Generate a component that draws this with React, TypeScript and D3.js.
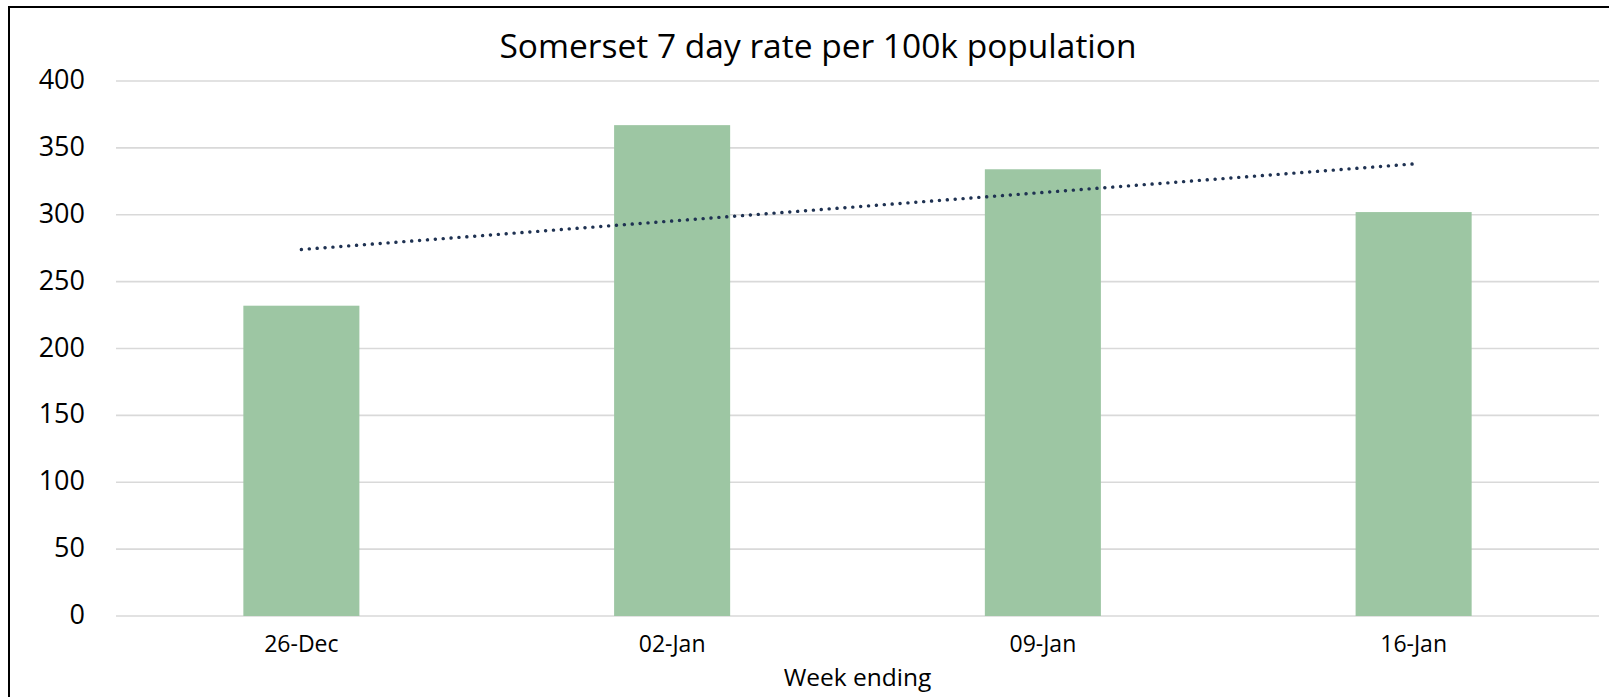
import * as d3 from 'd3';

const weeks = ['26-Dec', '02-Jan', '09-Jan', '16-Jan'];
const rates = [232, 367, 334, 302];
// linear trendline endpoints as drawn (first and last week)
const trendEnds = [274, 338];
const yTicks = [0, 50, 100, 150, 200, 250, 300, 350, 400];

const W = 1609;
const H = 697;
const FONT = '"Open Sans", "Noto Sans", sans-serif';

export default function App() {
  const left = 116;
  const right = 1599;
  const top = 81;
  const bottom = 616;

  const x = d3.scaleBand<string>()
    .domain(weeks)
    .range([left, right])
    .paddingInner(0.687)
    .paddingOuter(0.3435);

  const y = d3.scaleLinear().domain([0, 400]).range([bottom, top]);

  const center = (w: string) => (x(w) ?? 0) + x.bandwidth() / 2;

  const trend = d3.line<number>()
    .x((_, i) => center(weeks[i === 0 ? 0 : weeks.length - 1]))
    .y(d => y(d));

  return (
    <svg
      width={W}
      height={H}
      style={{ position: 'absolute', left: 0, top: 0, background: '#fff' }}
      fontFamily={FONT}
    >
      <rect x={0} y={0} width={W} height={H} fill="#fff" />
      {/* chart border, runs past the right and bottom edges */}
      <rect x={9} y={7} width={W + 20} height={H + 20} fill="none" stroke="#000" strokeWidth={2} />

      <text x={818} y={58} textAnchor="middle" fontSize={33.5} fill="#000">
        Somerset 7 day rate per 100k population
      </text>

      {yTicks.map(t => (
        <g key={t}>
          <line x1={left} x2={right} y1={y(t)} y2={y(t)} stroke="#d9d9d9" strokeWidth={1.6} />
          <text x={85} y={y(t) + 8} textAnchor="end" fontSize={27} fill="#000">{t}</text>
        </g>
      ))}

      {weeks.map((w, i) => (
        <rect
          key={w}
          x={x(w)}
          y={y(rates[i])}
          width={x.bandwidth()}
          height={y(0) - y(rates[i])}
          fill="#9dc6a3"
        />
      ))}

      <path
        d={trend(trendEnds) ?? ''}
        fill="none"
        stroke="#1f3252"
        strokeWidth={3.4}
        strokeLinecap="round"
        strokeDasharray="0.1 7.8"
      />

      {weeks.map(w => (
        <text key={w} x={center(w)} y={652} textAnchor="middle" fontSize={23} fill="#000">{w}</text>
      ))}

      <text x={(left + right) / 2} y={686} textAnchor="middle" fontSize={24.5} fill="#000">
        Week ending
      </text>
    </svg>
  );
}
